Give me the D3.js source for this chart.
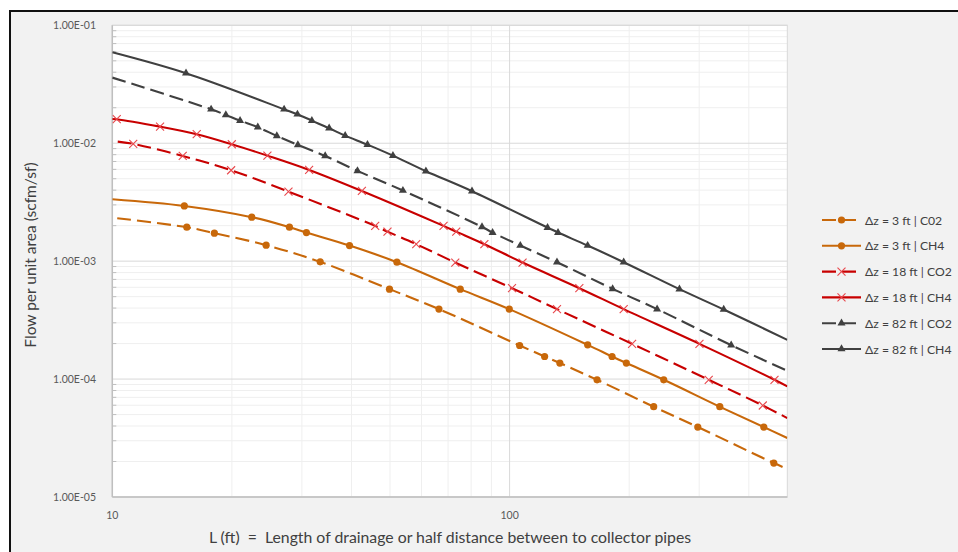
<!DOCTYPE html>
<html><head><meta charset="utf-8">
<script src="https://cdn.jsdelivr.net/npm/d3@7"></script>
<style>
html,body{margin:0;padding:0;background:#fff;}
svg{display:block;}
text{font-family:Lato,"Open Sans",sans-serif;}
</style></head>
<body>
<svg id="chart" width="958" height="552"></svg>
<script>
// ---- data (L in ft, flow in scfm/sf) ----
const seriesNames = ["Δz = 3 ft | C02","Δz = 3 ft | CH4","Δz = 18 ft | CO2","Δz = 18 ft | CH4","Δz = 82 ft | CO2","Δz = 82 ft | CH4"];

const L_3_CO2 = [10.29,15.4,18.07,24.39,33.36,49.85,66.4,106.0,122.5,133.8,166.0,230.5,297.6,462.4,500];
const V_3_CO2 = [0.002314,0.00194,0.001727,0.001367,0.000986,0.000579,0.000392,0.0001926,0.0001554,0.0001367,0.0000986,0.0000583,0.0000392,0.0000194,0.0000173];

const L_3_CH4 = [10,15.18,22.44,27.92,30.8,39.54,52.05,75.12,99.8,157.2,181.1,196.7,244.3,338.1,436.3,500];
const V_3_CH4 = [0.00335,0.00294,0.00236,0.00194,0.001747,0.001356,0.00098,0.000579,0.000392,0.000195,0.0001554,0.0001367,0.0000986,0.0000583,0.0000392,0.0000316];

const L_18_CO2 = [10.32,11.29,15.04,19.91,27.76,45.89,49.28,58.21,72.99,101.4,131.6,203.4,317.1,433.8,500];
const V_18_CO2 = [0.01032,0.00987,0.0078,0.0059,0.00389,0.00199,0.00178,0.001393,0.000973,0.00059,0.000392,0.000199,0.0000986,0.0000597,0.0000467];

const L_18_CH4 = [10,10.26,13.19,16.31,19.99,24.57,31.29,42.48,68.2,73.4,86.4,107.8,149.8,193.7,300.5,464.2,500];
const V_18_CH4 = [0.01607,0.01598,0.01382,0.01192,0.0098,0.00785,0.00594,0.00394,0.00199,0.00178,0.001393,0.000973,0.00059,0.000392,0.000199,0.0000986,0.0000866];

const L_82_CO2 = [10,17.73,19.31,20.97,23.24,25.95,29.31,34.34,41.41,53.89,85.21,90.6,106.4,131.6,181.7,235.1,361.2,500];
const V_82_CO2 = [0.036,0.0194,0.01737,0.01554,0.01367,0.01153,0.00968,0.0078,0.00583,0.00397,0.001953,0.001747,0.001356,0.00098,0.000582,0.000392,0.000194,0.0001176];

const L_82_CH4 = [10,15.33,27.07,29.24,31.79,35.14,38.56,43.88,50.86,61.57,80.42,124.6,132.4,157.2,193.7,267.6,345.9,500];
const V_82_CH4 = [0.059,0.0392,0.0194,0.0176,0.01554,0.0134,0.0116,0.00973,0.00785,0.00579,0.00392,0.001926,0.001747,0.001356,0.00098,0.000579,0.000389,0.000215];

const yTickValues = [1e-5,1e-4,1e-3,1e-2,1e-1];
const yTickLabels = ["1.00E-05","1.00E-04","1.00E-03","1.00E-02","1.00E-01"];
const xTickValues = [10,100];
const xTickLabels = ["10","100"];

// ---- styles ----
const ORANGE="#C8680A", RED="#C80000", DARK="#404040";
const styles = [
  {c:ORANGE,dash:"14,6",m:"circle"},
  {c:ORANGE,dash:null,m:"circle"},
  {c:RED,dash:"14,6",m:"x"},
  {c:RED,dash:null,m:"x"},
  {c:DARK,dash:"14,6",m:"tri"},
  {c:DARK,dash:null,m:"tri"}
];
const seriesL=[L_3_CO2,L_3_CH4,L_18_CO2,L_18_CH4,L_82_CO2,L_82_CH4];
const seriesV=[V_3_CO2,V_3_CH4,V_18_CO2,V_18_CH4,V_82_CO2,V_82_CH4];
const series = seriesNames.map((n,i)=>({name:n,pts:seriesL[i].map((l,j)=>({L:l,V:seriesV[i][j]})),...styles[i]}));

const svg = d3.select("#chart");
svg.append("rect").attr("x",0).attr("y",0).attr("width",958).attr("height",552).attr("fill","#fff");
svg.append("rect").attr("x",10).attr("y",11).attr("width",960).attr("height",560).attr("fill","#F2F2F2").attr("stroke","#111").attr("stroke-width",2);

const X0=112.3, X1=787.3, Y0=497, Y1=25.3;
const x = d3.scaleLog().domain([10,500]).range([X0,X1]);
const y = d3.scaleLog().domain([1e-5,1e-1]).range([Y0,Y1]);

const g = svg.append("g");
g.append("rect").attr("x",X0).attr("y",Y1).attr("width",X1-X0).attr("height",Y0-Y1).attr("fill","#fff");

const yMinor=[];
for(let e=-5;e<=-2;e++){for(let k=2;k<=9;k++) yMinor.push(k*Math.pow(10,e));}
const xMinor=[20,30,40,50,60,70,80,90,200,300,400];
g.selectAll(".ymin").data(yMinor).join("line").attr("x1",X0).attr("x2",X1)
  .attr("y1",d=>y(d)).attr("y2",d=>y(d)).attr("stroke","#EFEFEF").attr("stroke-width",1);
g.selectAll(".xmin").data(xMinor).join("line").attr("y1",Y1).attr("y2",Y0)
  .attr("x1",d=>x(d)).attr("x2",d=>x(d)).attr("stroke","#EFEFEF").attr("stroke-width",1);
g.selectAll(".ymaj").data(yTickValues).join("line").attr("x1",X0).attr("x2",X1)
  .attr("y1",d=>y(d)).attr("y2",d=>y(d)).attr("stroke","#D9D9D9").attr("stroke-width",1);
g.selectAll(".xmaj").data([100]).join("line").attr("y1",Y1).attr("y2",Y0)
  .attr("x1",d=>x(d)).attr("x2",d=>x(d)).attr("stroke","#D9D9D9").attr("stroke-width",1);
g.append("rect").attr("x",X0).attr("y",Y1).attr("width",X1-X0).attr("height",Y0-Y1)
  .attr("fill","none").attr("stroke","#D9D9D9").attr("stroke-width",1);
g.append("line").attr("x1",X0).attr("x2",X0).attr("y1",Y1).attr("y2",Y0).attr("stroke","#BFBFBF").attr("stroke-width",1.5);
g.append("line").attr("x1",X0).attr("x2",X1).attr("y1",Y0).attr("y2",Y0).attr("stroke","#BFBFBF").attr("stroke-width",1.5);
g.selectAll(".ytk").data(yMinor).join("line").attr("x1",X0).attr("x2",X0+4)
  .attr("y1",d=>y(d)).attr("y2",d=>y(d)).attr("stroke","#BFBFBF").attr("stroke-width",1);

g.selectAll(".ylab").data(yTickValues).join("text")
  .attr("x",96).attr("y",d=>y(d)+4).attr("text-anchor","end")
  .attr("font-size",10.5).attr("fill","#595959").text((d,i)=>yTickLabels[i]);
g.selectAll(".xlab").data(xTickValues).join("text")
  .attr("x",d=>x(d)).attr("y",519).attr("text-anchor","middle")
  .attr("font-size",10.5).attr("fill","#595959").text((d,i)=>xTickLabels[i]);

svg.append("text").attr("transform","translate(36,255) rotate(-90)").attr("text-anchor","middle")
  .attr("font-size",15.5).attr("fill","#404040").text("Flow per unit area (scfm/sf)");
svg.append("text").attr("x",450).attr("y",543).attr("text-anchor","middle")
  .attr("font-size",15.8).attr("fill","#404040").attr("xml:space","preserve")
  .text("L (ft)  =  Length of drainage or half distance between to collector pipes");

svg.append("clipPath").attr("id","clip").append("rect").attr("x",X0).attr("y",Y1).attr("width",X1-X0).attr("height",Y0-Y1);

const line = d3.line().x(d=>x(d.L)).y(d=>y(d.V)).curve(d3.curveCatmullRom.alpha(0.5));

function drawMarker(sel, type, color, cx, cy){
  if(type==="circle"){
    sel.append("circle").attr("cx",cx).attr("cy",cy).attr("r",3.6).attr("fill",color);
  } else if(type==="x"){
    const s=4;
    sel.append("path").attr("d",`M${cx-s},${cy-s}L${cx+s},${cy+s}M${cx-s},${cy+s}L${cx+s},${cy-s}`)
      .attr("stroke","#E8474C").attr("stroke-width",1.1).attr("fill","none");
  } else {
    sel.append("path").attr("d",d3.symbol().type(d3.symbolTriangle).size(28)())
      .attr("transform",`translate(${cx},${cy})`).attr("fill",color);
  }
}

const plot = svg.append("g").attr("clip-path","url(#clip)");
series.forEach(s=>{
  plot.append("path").datum(s.pts).attr("d",line).attr("fill","none")
    .attr("stroke",s.c).attr("stroke-width",2.1).attr("stroke-dasharray",s.dash);
});
series.forEach(s=>{
  const mg = plot.append("g");
  s.pts.forEach((p,j)=>{
    if(j===0||j===s.pts.length-1) return;
    drawMarker(mg,s.m,s.c,x(p.L),y(p.V));
  });
});

const leg = svg.append("g");
series.forEach((s,i)=>{
  const ly = 220 + i*25.8;
  const row = leg.append("g");
  row.append("line").attr("x1",822).attr("x2",861).attr("y1",ly).attr("y2",ly)
    .attr("stroke",s.c).attr("stroke-width",2.1).attr("stroke-dasharray",s.dash?"14,6":null);
  drawMarker(row,s.m,s.c,841.5,ly);
  row.append("text").attr("x",865).attr("y",ly+4.5).attr("font-size",12.2).attr("fill","#404040").text(s.name);
});
</script>
</body></html>
